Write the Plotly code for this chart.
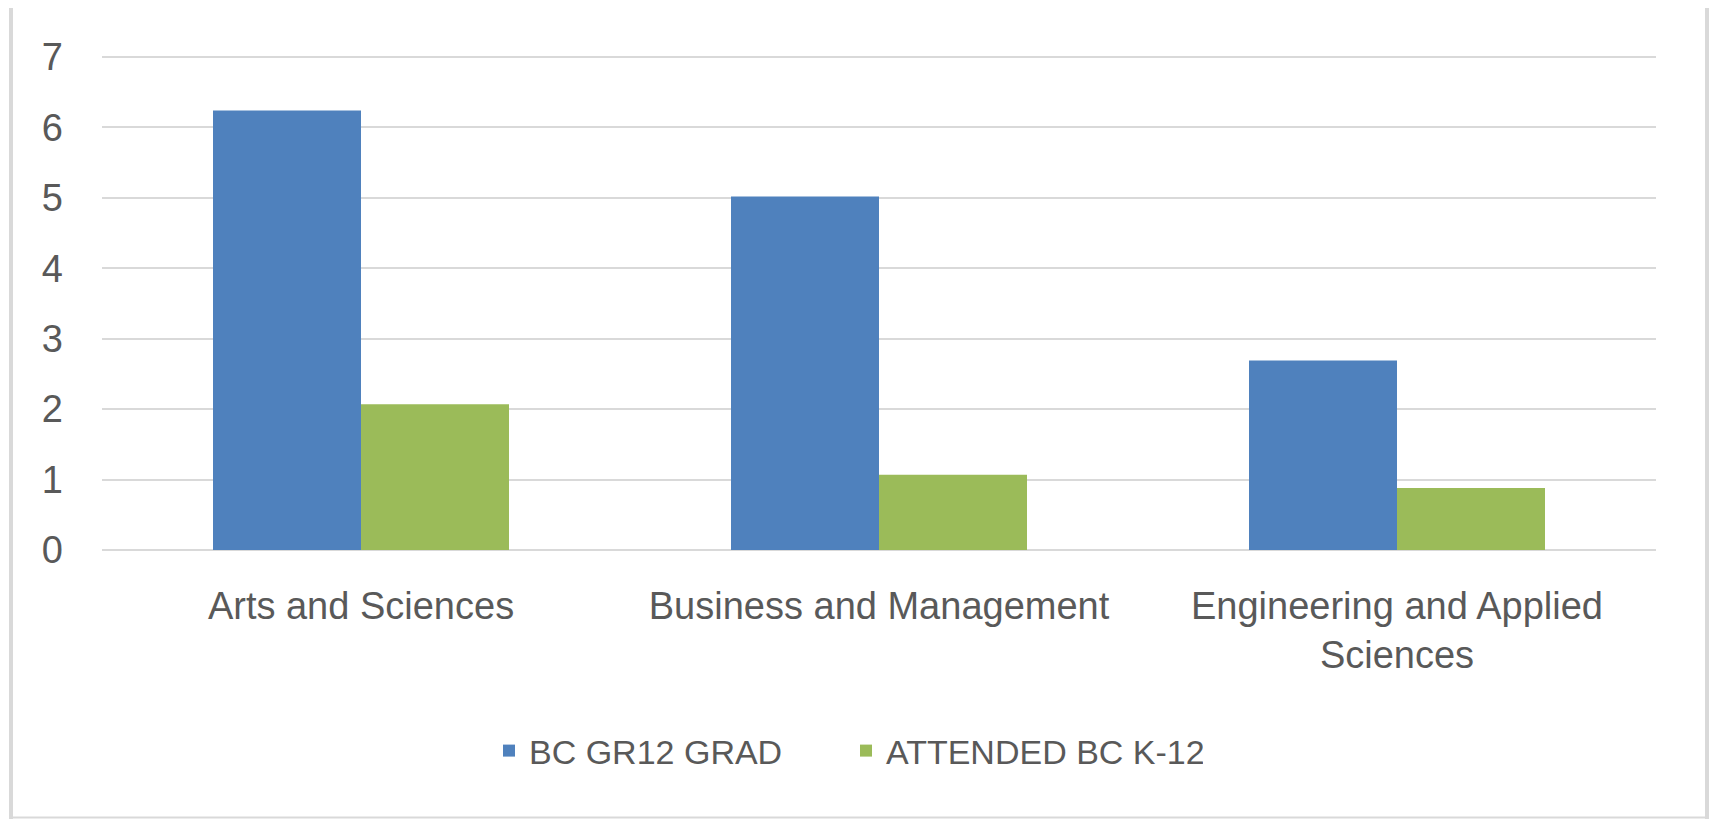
import plotly.graph_objects as go

categories = ["Arts and Sciences", "Business and Management", "Engineering and Applied Sciences"]
tick_labels = ["Arts and Sciences", "Business and Management", "Engineering and Applied<br>Sciences"]
bc_gr12_grad = [6.24, 5.02, 2.69]
attended_bc_k12 = [2.07, 1.07, 0.88]
series_names = ["BC GR12 GRAD", "ATTENDED BC K-12"]
y_ticks = [0, 1, 2, 3, 4, 5, 6, 7]

W, H = 1712, 819
ML, MR, MT, MB = 102, 56, 56, 269
PW = W - ML - MR
PH = H - MT - MB

def px_x(x):
    return (x - ML) / PW

def px_y(y):
    return (H - MB - y) / PH

text_color = "#595959"
grid_color = "#d9d9d9"

fig = go.Figure()
fig.add_trace(go.Bar(x=categories, y=bc_gr12_grad, name=series_names[0],
                     marker=dict(color="#4F81BD", line=dict(width=0))))
fig.add_trace(go.Bar(x=categories, y=attended_bc_k12, name=series_names[1],
                     marker=dict(color="#9BBB59", line=dict(width=0))))

fig.update_layout(
    width=W, height=H,
    margin=dict(l=ML, r=MR, t=MT, b=MB, pad=0),
    paper_bgcolor="white", plot_bgcolor="white",
    barmode="group", bargap=1.5 / 3.5, bargroupgap=0,
    font=dict(family="Liberation Sans, Arial, sans-serif", color=text_color, size=38),
    showlegend=True,
    legend=dict(orientation="h", x=px_x(489), xanchor="left", y=px_y(751), yanchor="middle",
                font=dict(size=34, color=text_color), entrywidth=312, entrywidthmode="pixels",
                bgcolor="rgba(0,0,0,0)", traceorder="normal"),
    xaxis=dict(tickmode="array", tickvals=categories, ticktext=tick_labels,
               showgrid=False, showline=False, zeroline=False, ticks="",
               ticklabelstandoff=30, tickfont=dict(size=38, color=text_color)),
    yaxis=dict(range=[0, 7.015], tickmode="array", tickvals=y_ticks,
               showgrid=True, gridcolor=grid_color, gridwidth=2,
               zeroline=True, zerolinecolor=grid_color, zerolinewidth=2,
               showline=False, ticks="", ticklabelstandoff=38,
               tickfont=dict(size=38, color=text_color)),
    shapes=[
        dict(type="line", xref="paper", yref="paper", x0=px_x(11), x1=px_x(11), y0=px_y(8), y1=px_y(819),
             line=dict(color=grid_color, width=4)),
        dict(type="line", xref="paper", yref="paper", x0=px_x(1707), x1=px_x(1707), y0=px_y(8), y1=px_y(819),
             line=dict(color=grid_color, width=4)),
        dict(type="line", xref="paper", yref="paper", x0=px_x(11), x1=px_x(1707), y0=px_y(817.5), y1=px_y(817.5),
             line=dict(color=grid_color, width=2)),
    ],
)

fig.write_html("out.html", config={"displayModeBar": False},
               post_script="document.body.style.margin='0';document.body.style.overflow='hidden';")
